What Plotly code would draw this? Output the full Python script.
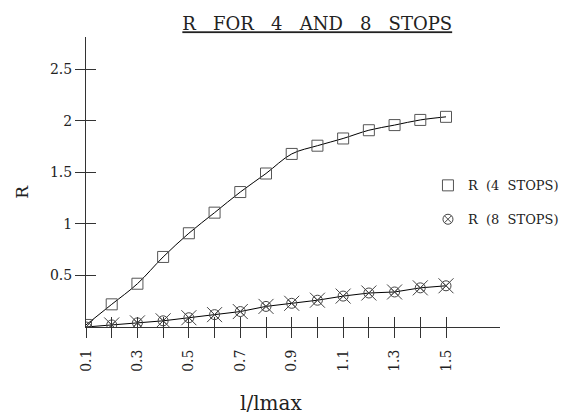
import plotly.graph_objects as go

x_vals = [0.1, 0.2, 0.3, 0.4, 0.5, 0.6, 0.7, 0.8, 0.9, 1.0, 1.1, 1.2, 1.3, 1.4, 1.5]
r4 = [0.02, 0.22, 0.42, 0.68, 0.91, 1.11, 1.31, 1.49, 1.68, 1.76, 1.83, 1.91, 1.96, 2.01, 2.04]
r8 = [0.0, 0.02, 0.04, 0.06, 0.09, 0.12, 0.15, 0.20, 0.23, 0.26, 0.30, 0.33, 0.34, 0.38, 0.40]

x_ticks = [0.1, 0.2, 0.3, 0.4, 0.5, 0.6, 0.7, 0.8, 0.9, 1.0, 1.1, 1.2, 1.3, 1.4, 1.5]
x_ticktext = ["0.1", "", "0.3", "", "0.5", "", "0.7", "", "0.9", "", "1.1", "", "1.3", "", "1.5"]
y_ticks = [0.5, 1, 1.5, 2, 2.5]
y_ticktext = ["0.5", "1", "1.5", "2", "2.5"]

FONT = "DejaVu Serif"
NB = "\u00a0"

fig = go.Figure()
fig.add_trace(go.Scatter(x=x_vals, y=r4, mode="lines", line=dict(color="black", width=1, shape="spline"),
                         showlegend=False, hoverinfo="skip"))
fig.add_trace(go.Scatter(x=x_vals, y=r8, mode="lines", line=dict(color="black", width=1),
                         showlegend=False, hoverinfo="skip"))
fig.add_trace(go.Scatter(x=x_vals, y=r4, mode="markers", name="R" + NB * 2 + "(4" + NB * 2 + "STOPS)",
                         marker=dict(symbol="square-open", size=11, color="#555555", line=dict(width=1)),
                         legendgroup="a"))
fig.add_trace(go.Scatter(x=x_vals, y=r8, mode="markers", name="R" + NB * 2 + "(8" + NB * 2 + "STOPS)",
                         marker=dict(symbol="circle-x-open", size=10, color="#444444", line=dict(width=1)),
                         legendgroup="b"))
fig.add_trace(go.Scatter(x=x_vals, y=r8, mode="markers", showlegend=False,
                         marker=dict(symbol="x-thin-open", size=15, color="#444444", line=dict(width=1)),
                         hoverinfo="skip"))
# helper traces for overlay axes (crossing ticks)
fig.add_trace(go.Scatter(x=[0.1], y=[0], xaxis="x2", mode="markers", marker=dict(opacity=0),
                         showlegend=False, hoverinfo="skip"))
fig.add_trace(go.Scatter(x=[0.1], y=[0], yaxis="y2", mode="markers", marker=dict(opacity=0),
                         showlegend=False, hoverinfo="skip"))

title_text = "<u>" + (NB * 3).join(["R", "FOR", "4", "AND", "8", "STOPS"]) + "</u>"

fig.update_layout(
    width=580, height=416,
    margin=dict(l=86, r=80, t=37, b=89, autoexpand=False),
    paper_bgcolor="white", plot_bgcolor="white",
    font=dict(family=FONT, color="#222222", size=14),
    title=dict(text=title_text, x=0.547, xanchor="center", xref="container",
               y=1 - 24 / 416, yanchor="middle", yref="container",
               font=dict(size=18, family=FONT, color="#222222")),
    xaxis=dict(range=[0.1, 1.71], showgrid=False, zeroline=False, showline=True, linecolor="#333",
               linewidth=1, ticks="outside", ticklen=10, tickcolor="#333", tickvals=x_ticks,
               ticktext=x_ticktext, tickangle=-90, tickfont=dict(size=14), ticklabelstandoff=6,
               automargin=False),
    xaxis2=dict(range=[0.1, 1.71], overlaying="x", anchor="y", side="bottom", showgrid=False,
                zeroline=False, showline=False, ticks="inside", ticklen=10, tickcolor="#333",
                tickvals=x_ticks, showticklabels=False, automargin=False),
    yaxis=dict(range=[0, 2.815], showgrid=False, zeroline=False, showline=True, linecolor="#333",
               linewidth=1, ticks="outside", ticklen=10, tickcolor="#333", tickvals=y_ticks,
               ticktext=y_ticktext, tickfont=dict(size=14), automargin=False),
    yaxis2=dict(range=[0, 2.815], overlaying="y", anchor="x", side="left", showgrid=False,
                zeroline=False, showline=False, ticks="inside", ticklen=10, tickcolor="#333",
                tickvals=y_ticks, showticklabels=False, automargin=False),
    legend=dict(x=0.826, y=0.54, xanchor="left", yanchor="top", font=dict(size=13, family=FONT),
                tracegroupgap=14, bgcolor="rgba(0,0,0,0)"),
    annotations=[
        dict(text="l/lmax", x=0.447, y=-0.262, xref="paper", yref="paper", xanchor="center",
             yanchor="middle", showarrow=False, font=dict(size=20, family=FONT, color="#222222")),
        dict(text="R", x=-0.1546, y=0.466, xref="paper", yref="paper", xanchor="center",
             yanchor="middle", showarrow=False, textangle=-90,
             font=dict(size=17, family=FONT, color="#222222")),
    ],
)

fig.write_html("out.html", config={"displayModeBar": False},
               post_script="document.body.style.margin='0';document.body.style.padding='0';")
